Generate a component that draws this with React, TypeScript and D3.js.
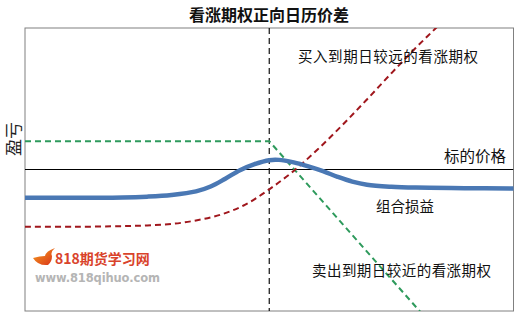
import React from "react";
import * as d3 from "d3";

const W = 518;
const H = 317;
const margin = { left: 25, right: 4, top: 28, bottom: 6 };

// underlying price (x) domain and profit/loss (y) domain
const xDomain = [0, 100];
const yDomain = [-10, 10];
const strike = 50;

// 卖出到期日较近的看涨期权 (short near-term call)
const shortCallX = [0, 50, 100];
const shortCallY = [2.0, 2.0, -17.5];

// 买入到期日较远的看涨期权 (long far-term call)
const longCallX = [0, 10, 20, 25, 30, 35, 40, 45, 50, 55, 60, 65, 70, 75, 80, 85, 90];
const longCallY = [-4.05, -4.05, -4.0, -3.95, -3.85, -3.6, -3.2, -2.5, -1.4, -0.1, 1.45, 3.15, 4.95, 6.8, 8.6, 10.3, 12.1];

// 组合损益 (combined P&L)
const comboX = [0, 10, 20, 25, 30, 35, 38, 41, 44, 47, 50, 52, 55, 58, 61, 64, 67, 70, 75, 80, 90, 100];
const comboY = [-2.0, -2.0, -1.98, -1.92, -1.8, -1.55, -1.2, -0.65, -0.05, 0.38, 0.66, 0.68, 0.5, 0.22, -0.12, -0.52, -0.86, -1.08, -1.22, -1.28, -1.32, -1.35];

const title = "看涨期权正向日历价差";
const yLabel = "盈亏";
const labels = {
  longCall: "买入到期日较远的看涨期权",
  axis: "标的价格",
  combo: "组合损益",
  shortCall: "卖出到期日较近的看涨期权",
};

const FONT = "'Noto Sans CJK SC', 'DejaVu Sans', sans-serif";

export default function App() {
  const x = d3.scaleLinear().domain(xDomain).range([margin.left, W - margin.right - 0.5]);
  const y = d3.scaleLinear().domain(yDomain).range([H - margin.bottom, margin.top]);

  const pts = (xs: number[], ys: number[]) => xs.map((v, i) => [v, ys[i]] as [number, number]);

  const straight = d3
    .line<[number, number]>()
    .x((d) => x(d[0]))
    .y((d) => y(d[1]));
  const smooth = d3
    .line<[number, number]>()
    .x((d) => x(d[0]))
    .y((d) => y(d[1]))
    .curve(d3.curveCatmullRom.alpha(0.5));

  const x0 = x(xDomain[0]);
  const x1 = x(xDomain[1]);
  const yTop = y(yDomain[1]);
  const yBot = y(yDomain[0]);

  return (
    <svg
      width={W}
      height={H}
      viewBox={`0 0 ${W} ${H}`}
      style={{ position: "absolute", left: 0, top: 0, background: "#fff" }}
    >
      <defs>
        <clipPath id="plot">
          <rect x={x0} y={yTop} width={x1 - x0} height={yBot - yTop} />
        </clipPath>
        <linearGradient id="bird" x1="0" y1="0" x2="1" y2="1">
          <stop offset="0" stopColor="#f7a21b" />
          <stop offset="1" stopColor="#d8301c" />
        </linearGradient>
      </defs>

      <text
        x={269}
        y={21}
        textAnchor="middle"
        fontFamily={FONT}
        fontWeight="bold"
        fontSize={16}
        fill="#111"
      >
        {title}
      </text>

      {/* plot frame */}
      <rect x={x0} y={yTop} width={x1 - x0} height={yBot - yTop} fill="#fff" stroke="#808080" strokeWidth={1} />

      {/* watermark */}
      <g>
        <path
          d="M33,258 Q38,266 48,265 Q52,262 52,256 Q50,252 55,248 Q46,251 45,256 Q40,256 33,258 Z"
          fill="url(#bird)"
        />
        <text x={55} y={264} fontFamily={FONT} fontWeight="bold" fontSize={14} fill="#d9432b">
          818期货学习网
        </text>
        <text x={35} y={282} fontFamily="'DejaVu Sans', sans-serif" fontWeight="bold" fontSize={11.5} fill="#b5b5b5" textLength={125}>
          www.818qihuo.com
        </text>
      </g>

      <g clipPath="url(#plot)">
        {/* zero axis */}
        <line x1={x0} x2={x1} y1={y(0)} y2={y(0)} stroke="#000" strokeWidth={1.2} />
        {/* strike */}
        <line
          x1={x(strike)}
          x2={x(strike)}
          y1={yTop}
          y2={yBot}
          stroke="#111"
          strokeWidth={1.2}
          strokeDasharray="6,4"
        />
        <path
          d={straight(pts(shortCallX, shortCallY)) || ""}
          fill="none"
          stroke="#2e9a5c"
          strokeWidth={2}
          strokeDasharray="6,4"
        />
        <path
          d={smooth(pts(longCallX, longCallY)) || ""}
          fill="none"
          stroke="#a0171d"
          strokeWidth={2}
          strokeDasharray="6,4"
        />
        <path
          d={smooth(pts(comboX, comboY)) || ""}
          fill="none"
          stroke="#4a78b4"
          strokeWidth={4.5}
          strokeLinecap="round"
        />
      </g>

      <text x={298} y={62} fontFamily={FONT} fontSize={14.5} fill="#111" textLength={180}>
        {labels.longCall}
      </text>
      <text x={506} y={162} textAnchor="end" fontFamily={FONT} fontSize={15.5} fill="#111">
        {labels.axis}
      </text>
      <text x={376} y={212} fontFamily={FONT} fontSize={14.5} fill="#111">
        {labels.combo}
      </text>
      <text x={312} y={276} fontFamily={FONT} fontSize={14.5} fill="#111" textLength={179}>
        {labels.shortCall}
      </text>

      <text
        transform="translate(20,139) rotate(-90)"
        textAnchor="middle"
        fontFamily={FONT}
        fontSize={17}
        fill="#222"
      >
        {yLabel}
      </text>
    </svg>
  );
}
